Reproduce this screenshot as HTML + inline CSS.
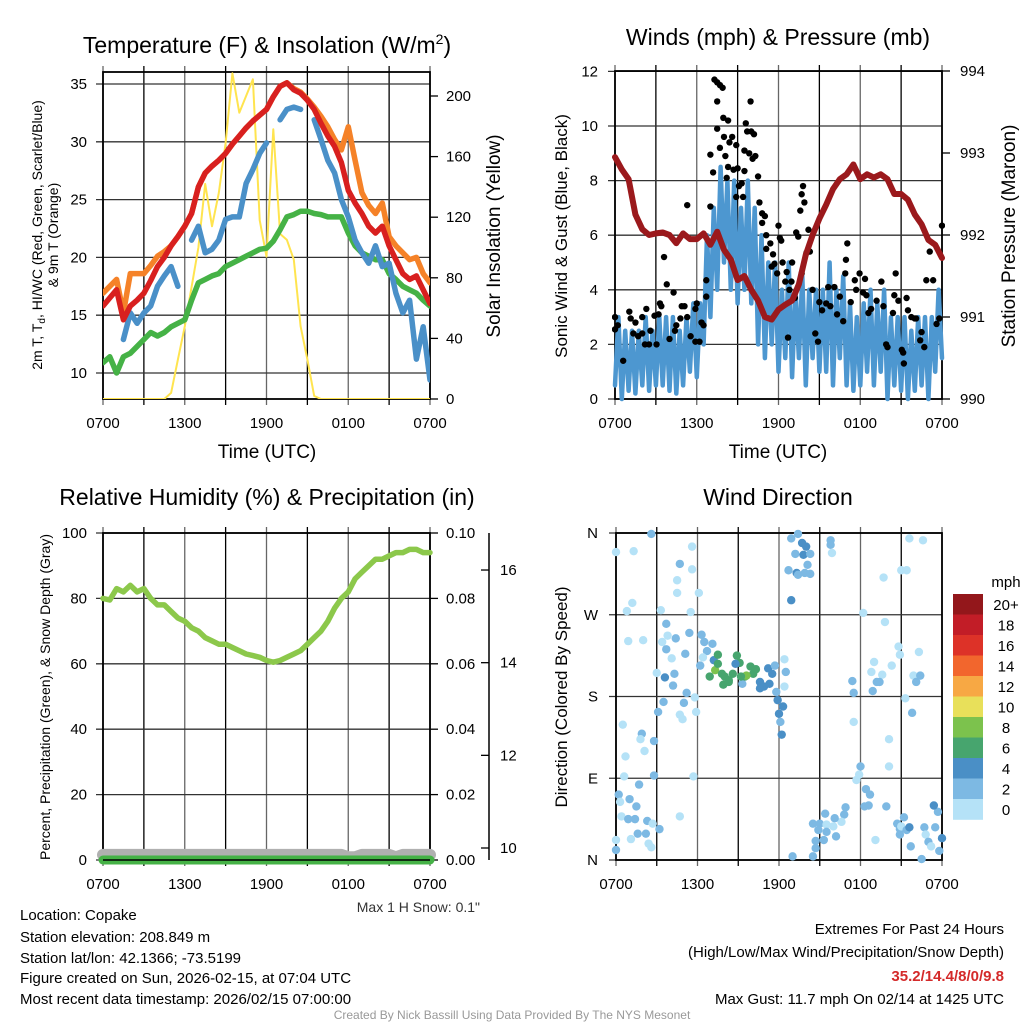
<!DOCTYPE html>
<html><head><meta charset="utf-8"><style>
html,body{margin:0;padding:0;background:#fff;}
svg{display:block;font-family:"Liberation Sans",sans-serif;}
</style></head><body>
<svg id="fig" width="1024" height="1024" viewBox="0 0 1024 1024" xmlns="http://www.w3.org/2000/svg">
<rect width="1024" height="1024" fill="#fff"/>
<g id="p1"></g>
<g id="p2"></g>
<g id="p3"></g>
<g id="p4"></g>
<g font-size="23" text-anchor="middle" fill="#000">
<text x="267" y="53">Temperature (F) &amp; Insolation (W/m<tspan font-size="14" dy="-9">2</tspan><tspan dy="9">)</tspan></text>
<text x="778" y="45">Winds (mph) &amp; Pressure (mb)</text>
<text x="267" y="505">Relative Humidity (%) &amp; Precipitation (in)</text>
<text x="778" y="505">Wind Direction</text>
</g>
<g font-size="19" text-anchor="middle">
<text x="267" y="458">Time (UTC)</text>
<text x="778" y="458">Time (UTC)</text>
<text transform="translate(500,236) rotate(-90)">Solar Insolation (Yellow)</text>
<text transform="translate(1015,236) rotate(-90)">Station Pressure (Maroon)</text>
</g>
<g font-size="17" text-anchor="middle">
<text transform="translate(567,236) rotate(-90)">Sonic Wind &amp; Gust (Blue, Black)</text>
<text transform="translate(567,697) rotate(-90)">Direction (Colored By Speed)</text>
</g>
<g font-size="14" text-anchor="middle">
<text transform="translate(42,235) rotate(-90)">2m T, T<tspan font-size="10" dy="3">d</tspan><tspan dy="-3">, HI/WC (Red, Green, Scarlet/Blue)</tspan></text>
<text transform="translate(58,235) rotate(-90)">&amp; 9m T (Orange)</text>
<text transform="translate(50,697) rotate(-90)">Percent, Precipitation (Green), &amp; Snow Depth (Gray)</text>
</g>
<text x="480" y="912" font-size="14" text-anchor="end" fill="#333">Max 1 H Snow: 0.1"</text>
<g font-size="15" fill="#000">
<text x="20" y="920">Location: Copake</text>
<text x="20" y="942">Station elevation: 208.849 m</text>
<text x="20" y="963">Station lat/lon: 42.1366; -73.5199</text>
<text x="20" y="983">Figure created on Sun, 2026-02-15, at 07:04 UTC</text>
<text x="20" y="1004">Most recent data timestamp: 2026/02/15 07:00:00</text>
</g>
<g font-size="15" text-anchor="end">
<text x="1004" y="934">Extremes For Past 24 Hours</text>
<text x="1004" y="957">(High/Low/Max Wind/Precipitation/Snow Depth)</text>
<text x="1004" y="981" fill="#d42a2a" font-weight="bold">35.2/14.4/8/0/9.8</text>
<text x="1004" y="1004">Max Gust: 11.7 mph On 02/14 at 1425 UTC</text>
</g>
<text x="512" y="1019" font-size="12" text-anchor="middle" fill="#999">Created By Nick Bassill Using Data Provided By The NYS Mesonet</text>
</svg>
<script>
// ---------- data ----------
const timeLabels = ["0700","1300","1900","0100","0700"];
const halfHours = [0,0.5,1,1.5,2,2.5,3,3.5,4,4.5,5,5.5,6,6.5,7,7.5,8,8.5,9,9.5,10,10.5,11,11.5,12,12.5,13,13.5,14,14.5,15,15.5,16,16.5,17,17.5,18,18.5,19,19.5,20,20.5,21,21.5,22,22.5,23,23.5,24];
const tempRed = [15.8,16.5,17.2,14.6,15.8,16.3,16.9,18,19.2,20,21,21.8,22.7,23.8,26.1,27.3,27.9,28.4,29,29.8,30.5,31.2,31.8,32.3,32.8,33.9,34.8,35.1,34.5,34.2,33.6,32.8,31.6,30.5,29.6,28.2,25.8,24.7,23.8,22.7,22.1,22.7,21,19.8,18.6,18.1,18.4,17.2,16];
const temp9m = [16.9,17.5,18.1,15.2,18.6,18.6,18.6,19.3,20.1,20.5,21,21.8,22.7,23.8,26.1,27.3,27.9,28.4,29,29.8,30.5,31.2,31.8,32.3,32.8,33.9,34.8,35.1,34.6,34.3,33.7,33,32.2,31.3,30.2,29.3,31.3,28.4,25.6,24.5,23.8,24.7,21.8,21,20.4,19.8,20,18.6,17.8];
const heatIdx = [null,null,null,12.9,15.2,14.3,15.2,15.8,17.5,18.4,19.2,17.5,null,21.5,22.7,20.4,20.7,21.5,23.3,23.5,23.5,26.4,27.6,29,29.9,null,31.9,32.8,33,32.8,null,31.9,30.2,28.4,27.3,25,23.5,21.5,20.4,19.5,21,19.2,19.5,16.9,15.2,16.3,11.2,14,9.4];
const dewPt = [10.9,11.4,10,11.4,11.7,12.3,12.9,13.5,13.2,13.5,14,14.3,14.6,16.3,17.8,18.1,18.4,18.6,19.2,19.5,19.8,20.1,20.4,20.7,20.8,21.4,22.4,23.5,23.7,24,24,23.8,23.7,23.5,23.5,23.5,22.1,21,20.4,20.1,19.8,19.8,18.6,18.1,17.5,17.2,16.9,16.3,15.8];
const insolation = [0,0,0,0,0,0,0,0,0,0,4,26,48,74,100,142,114,136,169,215,189,200,211,118,94,178,109,105,92,48,26,2,0,0,0,0,0,0,0,0,0,0,0,0,0,0,0,0,0];
const pressure = [992.95,992.8,992.68,992.25,992.07,992,992.02,992.03,992,991.9,992.02,991.95,991.95,992.02,991.88,992.04,991.82,991.7,991.45,991.5,991.33,991.2,991,990.97,991.09,991.15,991.2,991.4,991.76,992,992.2,992.37,992.56,992.68,992.74,992.86,992.68,992.74,992.7,992.74,992.68,992.5,992.5,992.43,992.25,992.13,991.94,991.88,991.72];
const windHi = [3,2.5,2.5,2.5,3,2.5,3,3,3,2.5,3,3.5,3.5,6,7,8.5,8,8,7,8,7,6,5,5,4,5,4,4.5,4,4,4,5,4,4.5,3.5,3,3.5,4,3.5,4,3,3,3,2.5,3,3,3,4,4];
const windLo = [0.5,0,0.3,0.2,0.5,0.3,0.5,0.5,0.3,0.2,0.5,1,0.8,2,3,4,5,4,3.5,4,3.5,2,1.5,2,1,1.5,0.8,1.5,0.5,1.5,1,1,0.5,1.5,0.5,0.3,0.5,1,0.5,1,0,0.5,0.3,0,0.3,0.5,0,1,1.5];
const gustT = [0,0,0.2,0.6,1.05,1.15,1.5,1.35,1.7,2,2,2.3,2.2,2.6,2.5,2.9,3.05,3.2,3.3,3.4,3.6,3.8,4,4.3,4.4,4.5,4.8,4.9,5.1,5.3,5.3,5.55,5.9,6,5.9,6.2,6.35,6.5,6.7,6.7,7,7,7.2,7.3,7.5,7.7,7.9,7.5,7.5,7.7,7.95,8.3,8,8.2,8.1,8.4,8.6,8.3,8.7,8.9,9,9.1,9.3,8.9,9.4,9.5,9.5,9.6,9.7,9.95,9.85,10,10.2,10.1,10.3,10.5,10.6,10.8,10.8,11,11.1,11.1,11.4,11.6,11.5,11.7,11.9,12,12.1,12.2,12.3,12.5,12.6,12.7,12.8,12.95,13,13.2,13.3,13.45,13.6,13.7,13.8,13.9,13.7,14.05,14.2,14.3,14.5,14.7,14.9,15,15.2,15.5,15.65,15.8,16.1,16.3,16.5,16.75,16.9,16.95,17.05,17.3,17.6,17.7,17.95,18.2,18.35,18.45,18.6,18.8,19.2,19.55,19.7,19.9,20,20.4,20.5,20.6,20.8,21.05,21.15,21.4,21.5,21.75,22,22.1,22.4,22.5,22.7,22.85,23.1,23.35,23.6,23.8,24,21.2];
const gustV = [3,2.55,2.7,1.4,3.2,2.95,2.8,2.4,2.3,2.4,3,3.3,2,2.5,2,3.05,2,3.1,3.5,3.4,5.2,4.2,2.2,3.9,2.5,2.7,2.95,3.4,3.4,7.1,3,2.3,2.1,3.5,3.3,2.1,2.8,2.7,3.75,4.35,8.95,7.05,8.3,11.7,11.6,11.5,11.4,10.9,9.9,9.2,10.3,10.2,9.6,8.1,8.9,9.4,9.6,8.5,8.4,9.3,8.45,7.8,7.9,7.4,7.4,8.35,9.1,10.1,9.8,10.9,9,9.8,9.7,8.8,8.9,8.15,7.2,6.8,6.45,6.7,6,5.5,5.7,5.3,4.85,4.95,4.6,6.35,5.9,5.8,5,4.3,4.65,2.25,4,4.3,5,3.7,6.1,5.95,6.9,7.5,7.8,7.2,4.6,5.35,6.2,5.4,4,2.4,2.1,3.55,3.25,3.5,4.1,3.4,4.1,3.1,3.75,2.85,4.6,5.1,5.7,3.55,4.35,4,4.6,3.9,4.4,3.8,3.15,3.3,3.6,4.3,3.4,2,1.9,3.15,3.8,4.6,3.6,1.8,1.7,3.7,3.25,3,2.95,2.95,2.15,2.45,1.9,4.35,5.4,4.35,2.75,2.95,6.35,1.3];
const rh = [80,79.5,83,82,84,82,83,80,78,78,76,74,73,71,70,68,67,66,66,65,64,63,62.5,62,61,60.5,61,62,63,64,66,68,70,73,77,80,82,86,88,90,92,92,93,94,94,95,95,94,94];
const snowDepth = [9.85,9.85,9.85,9.85,9.85,9.85,9.85,9.85,9.85,9.85,9.85,9.85,9.85,9.85,9.85,9.85,9.85,9.85,9.85,9.85,9.85,9.85,9.85,9.85,9.85,9.85,9.85,9.85,9.85,9.85,9.85,9.85,9.85,9.85,9.85,9.85,9.8,9.8,9.85,9.85,9.85,9.85,9.85,9.8,9.85,9.85,9.85,9.85,9.85];
const precip = [0,0,0,0,0,0,0,0,0,0,0,0,0,0,0,0,0,0,0,0,0,0,0,0,0,0,0,0,0,0,0,0,0,0,0,0,0,0,0,0,0,0,0,0,0,0,0,0,0];
const dirT = [0,1.3,2.6,5.6,4.7,5.6,4.5,4.5,6.1,1.2,0.8,3.3,5.5,3.7,0.9,2,3.4,3.8,4.4,5.4,3.7,4.1,4.3,3.6,4.2,5.1,3,5.2,5,3.5,3.1,5.8,5.9,4.7,4.9,0.5,1.9,1.8,2.8,0.7,2.1,0.6,2.8,5.7,1.7,0.2,0.3,1,1.5,0.4,0.9,1.4,2.3,2.7,3.2,1.6,2.2,1.1,2.4,2.6,0,0,4.7,6.3,6.5,7.1,6.7,6.4,6.2,7.2,7.3,6.9,7.5,7.5,7.8,7.9,8.3,8.6,8.9,9.1,8.8,9.3,9.5,9.9,10.1,9.6,10.3,10.6,10.9,11.3,11.2,11.5,11.7,12.4,12.5,12.4,11.8,11.9,12.3,12,12.1,12.2,8.3,8,9.2,10.6,12.9,13.4,13.7,14,13.2,13.8,14.3,14.1,12.7,13.3,13.4,13.9,14.3,12.9,15.8,15.8,15.9,18.2,19.8,21.6,22.6,21,21.4,19.7,20.8,20.9,22.3,20.3,19,18.8,19.6,19.4,19.2,18.9,17.4,17.5,21.9,22.1,22.4,21.3,21.8,17.5,20.1,20.1,18,17.9,17.7,18.4,18.7,18.6,18.3,19.9,16.9,16.8,16.6,16.1,15.4,14.5,15,15.5,14.9,15.5,16.2,15.3,14.7,14.7,14.5,13,16,19.1,20.7,20.9,20.9,21,21.4,21.6,21.2,21.7,22.7,22.8,23,23.2,23.5,23.7,23.4,24,23.8,22.5];
const dirD = [339,340,359,345,326,320,308,294,294,283,274,275,273,260,241,242,240,247,244,250,232,222,205,201,192,227,206,184,173,174,163,179,163,160,155,149,139,133,131,114,120,92,93,92,83,72,64,67,59,48,45,45,43,40,34,29,29,23,18,14,22,11,48,248,240,238,230,223,214,220,209,202,226,216,205,193,198,205,225,217,216,194,202,213,205,203,210,196,191,194,211,205,214,221,207,191,185,176,169,161,152,138,196,202,202,189,354,359,349,345,337,336,337,325,319,316,314,316,315,286,352,347,338,272,262,354,352,319,319,311,235,226,229,214,218,207,204,196,196,186,197,184,203,196,203,178,162,152,133,103,103,94,88,78,72,60,59,59,58,50,42,46,51,40,40,39,33,31,26,22,21,13,4,4,37,22,40,34,28,37,33,36,47,15,36,28,20,15,36,53,60,24,10,1];
const dirS = [1,1,3,1,3,1,1,1,1,1,1,1,1,3,1,1,1,1,3,3,3,1,3,5,3,3,1,3,3,3,3,1,1,1,1,1,3,1,3,1,1,1,3,1,3,3,1,3,3,1,3,3,3,1,3,3,3,1,1,1,1,3,1,3,3,3,3,1,3,5,9,7,7,7,7,7,7,7,7,7,5,3,7,7,7,9,7,5,5,5,5,5,3,1,3,1,3,5,5,5,3,5,7,7,7,5,3,3,5,5,3,5,3,3,3,5,3,3,3,5,3,3,1,1,1,1,1,1,1,1,1,1,1,1,1,1,1,3,3,3,3,3,1,3,3,1,3,1,1,1,3,1,1,3,3,3,3,3,3,3,1,3,3,3,3,1,3,3,3,3,3,3,3,3,1,1,3,3,3,1,3,5,3,3,3,1,3,1,3,3,5,5,3,3,3,5,3,1];
const barLabels = ["20+","18","16","14","12","10","8","6","4","2","0"];
const barColors = ["#93171b","#c21d27","#dd3228","#f2662d","#f7a844","#e8e05a","#7cc24d","#47a56e","#4a8fc6","#7db9e3","#b5e2f7"];
const speedColors = ["#b5e2f7","#7db9e3","#4a8fc6","#47a56e","#7cc24d","#e8e05a","#f7a844","#f2662d","#dd3228","#c21d27","#93171b"];
const t1Ticks=[10,15,20,25,30,35], solTicks=[0,40,80,120,160,200];
const wTicks=[0,2,4,6,8,10,12], pTicks=[990,991,992,993,994];
const rhTicks=[0,20,40,60,80,100], prTicks=["0.00","0.02","0.04","0.06","0.08","0.10"], snTicks=[10,12,14,16];
const dirTicks=[0,90,180,270,360], dirLabels=["N","E","S","W","N"];

// ---------- helpers ----------
const NS="http://www.w3.org/2000/svg";
function mk(parent,tag,attrs,txt){const e=document.createElementNS(NS,tag);for(const k in attrs)e.setAttribute(k,attrs[k]);if(txt!==undefined)e.textContent=txt;parent.appendChild(e);return e;}
function xS(P,h){return P.x0+(P.x1-P.x0)*h/24;}
function pathOf(P,ts,vs,yf){let d="",pen=false;for(let i=0;i<ts.length;i++){if(vs[i]===null||vs[i]===undefined){pen=false;continue;}const x=xS(P,ts[i]).toFixed(1),y=yf(vs[i]).toFixed(1);d+=(pen?"L":"M")+x+" "+y;pen=true;}return d;}
function frame(g,P,hTicksY){
  for(let i=0;i<=8;i++){const x=xS(P,i*3);
    const l=mk(g,"line",{x1:x,x2:x,y1:P.y0-6,y2:P.y1+6,stroke:i%2?"#000":"#666","stroke-width":1.3});
    
    }
  hTicksY.forEach(y=>{const l=mk(g,"line",{x1:P.x0-7,x2:P.x1,y1:y,y2:y,stroke:"#333","stroke-width":1.3});
    
    });
  const r=mk(g,"rect",{x:P.x0,y:P.y0,width:P.x1-P.x0,height:P.y1-P.y0,fill:"none",stroke:"#000","stroke-width":1.8});
  
  
  timeLabels.forEach((s,i)=>{const t=mk(g,"text",{x:xS(P,i*6),y:P.y1+29,"font-size":15,"text-anchor":"middle"},s);
    
    });
}
function leftLabels(g,P,vals,yf,labs,xr){vals.forEach((v,i)=>{const t=mk(g,"text",{x:xr,y:yf(v)+5,"font-size":15,"text-anchor":"end"},labs?labs[i]:v);
  
  });}
function rightLabels(g,P,vals,yf,labs,xl){vals.forEach((v,i)=>{mk(g,"line",{x1:P.x1,x2:P.x1+8,y1:yf(v),y2:yf(v),stroke:"#000","stroke-width":1.3});
  const t=mk(g,"text",{x:xl,y:yf(v)+5,"font-size":15,"text-anchor":"start"},labs?labs[i]:v);
  
  });}
function line(g,P,ts,vs,yf,color,w,name){const p=mk(g,"path",{d:pathOf(P,ts,vs,yf),fill:"none",stroke:color,"stroke-width":w,"stroke-linejoin":"round","stroke-linecap":"round"});
  
  return p;}

// ---------- panel 1 ----------
(function(){const g=document.getElementById("p1");const P={x0:103,x1:430,y0:72,y1:399};
  const yT=v=>373-(v-10)*11.56, yS=w=>399-w*1.515;
  frame(g,P,t1Ticks.map(yT));
  leftLabels(g,P,t1Ticks,yT,null,87);
  rightLabels(g,P,solTicks,yS,null,446);
  const cl=mk(g,"clipPath",{id:"c1"});mk(cl,"rect",{x:P.x0,y:P.y0,width:P.x1-P.x0,height:P.y1-P.y0});
  const d=mk(g,"g",{"clip-path":"url(#c1)"});
  line(d,P,halfHours,insolation,yS,"#ffe44f",2,"insolation-line");
  line(d,P,halfHours,temp9m,yT,"#f58228",5.5,"temp-9m-line");
  line(d,P,halfHours,dewPt,yT,"#45b246",5.5,"dewpoint-line");
  line(d,P,halfHours,heatIdx,yT,"#4a90c8",5.5,"windchill-line");
  line(d,P,halfHours,tempRed,yT,"#d8201f",5.5,"temp-2m-line");
})();

// ---------- panel 2 ----------
(function(){const g=document.getElementById("p2");const P={x0:615,x1:942,y0:71,y1:399};
  const yW=v=>399-v*27.3, yP=p=>399-(p-990)*82;
  frame(g,P,wTicks.map(yW));
  leftLabels(g,P,wTicks,yW,null,598);
  rightLabels(g,P,pTicks,yP,null,960);
  const cl=mk(g,"clipPath",{id:"c2"});mk(cl,"rect",{x:P.x0-3,y:P.y0,width:P.x1-P.x0+6,height:P.y1-P.y0+3});
  const d=mk(g,"g",{"clip-path":"url(#c2)"});
  const zt=[],zv=[];halfHours.forEach((h,i)=>{zt.push(h);zv.push(windLo[i]);if(i<halfHours.length-1){zt.push(h+0.25);zv.push(windHi[i]);}});
  line(d,P,zt,zv,yW,"#4d97d0",4.5,"sonic-wind-line");
  gustT.forEach((h,i)=>{const c=mk(d,"circle",{cx:xS(P,h),cy:yW(gustV[i]),r:3.2,fill:"#000"});
    
    });
  line(d,P,halfHours,pressure,yP,"#9b191c",6,"pressure-line");
})();

// ---------- panel 3 ----------
(function(){const g=document.getElementById("p3");const P={x0:103,x1:430,y0:533,y1:860};
  const yR=v=>860-v*3.27, yPr=v=>860-v*3270, ySn=s=>848-(s-10)*46.33;
  frame(g,P,rhTicks.map(yR));
  leftLabels(g,P,rhTicks,yR,null,87);
  rightLabels(g,P,rhTicks,yR,prTicks,446);
  const ax=mk(g,"line",{x1:489,x2:489,y1:533,y2:860,stroke:"#000","stroke-width":1.5});
  
  
  snTicks.forEach(s=>{mk(g,"line",{x1:489,x2:481,y1:ySn(s),y2:ySn(s),stroke:"#000","stroke-width":1.3});
    const t=mk(g,"text",{x:500,y:ySn(s)+5,"font-size":15},s);
    
    });
  line(g,P,halfHours,snowDepth,ySn,"#b0b0b0",12,"snow-depth-line");
  line(g,P,halfHours,precip,yPr,"#45b246",9,"precip-line");
  mk(g,"line",{x1:P.x0,x2:P.x1,y1:860,y2:860,stroke:"#000","stroke-width":1.5});
  line(g,P,halfHours,rh,yR,"#8cc84b",5.5,"rh-line");
})();

// ---------- panel 4 ----------
(function(){const g=document.getElementById("p4");const P={x0:616,x1:942,y0:533,y1:860};
  const yD=v=>860-v*0.9083;
  frame(g,P,dirTicks.map(yD));
  leftLabels(g,P,dirTicks,yD,dirLabels,598);
  dirT.forEach((h,i)=>{const b=Math.min(10,Math.floor(dirS[i]/2));
    const c=mk(g,"circle",{cx:xS(P,h),cy:yD(dirD[i]),r:4.2,fill:speedColors[b]});
    
    });
  const lg=mk(g,"g",{});
  
  
  mk(lg,"text",{x:1006,y:587,"font-size":15,"text-anchor":"middle"},"mph");
  barColors.forEach((c,i)=>{const y=594+i*20.5;
    const r=mk(lg,"rect",{x:953,y:y,width:30,height:20.8,fill:c});
    
    
    mk(lg,"text",{x:1006,y:y+16,"font-size":15,"text-anchor":"middle"},barLabels[i]);});
})();
</script>
</body></html>
